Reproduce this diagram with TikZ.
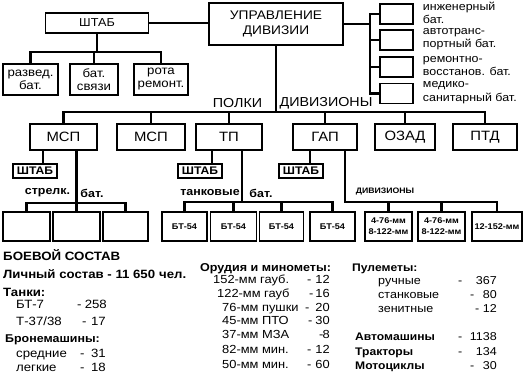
\documentclass[tikz,border=0pt]{standalone}
\usepackage{fontspec}
\setmainfont{Liberation Sans}[FakeStretch=1.1]
\newcommand\fsz[2]{\fontsize{#1}{#2}\selectfont}
\begin{document}
\begin{tikzpicture}[x=1pt,y=-1pt,
  box/.style={draw, line width=1.5pt, inner sep=0pt, align=center},
  sbox/.style={draw, line width=2pt, inner sep=0.5pt, minimum width=44pt, minimum height=14pt, font=\fsz{11}{12}\bfseries},
  lbox/.style={draw, line width=1.8pt, inner sep=0pt, align=center, minimum height=29pt, font=\fsz{8.3}{11}\bfseries},
  conn/.style={line width=2.8pt, line join=miter},
  lab/.style={inner sep=0pt, anchor=base west},
  num/.style={inner sep=0pt, anchor=base east},
  rl/.style={inner sep=0pt, anchor=west, align=left, font=\fsz{11.3}{13.5}},
  Lb/.style={font=\fsz{12}{13}\bfseries},
  Lr/.style={font=\fsz{12}{13}},
  Mb/.style={font=\fsz{11.4}{13}\bfseries},
  Mr/.style={font=\fsz{11.7}{13}},
  Rb/.style={font=\fsz{11}{13}\bfseries},
  Rr/.style={font=\fsz{11.4}{13}},
  reg/.style={box, minimum height=26pt, font=\fsz{13.5}{14}},
  mlab/.style={inner sep=0pt, font=\fsz{11.3}{12}\bfseries}]
\useasboundingbox (0,0) rectangle (525,375);

% top level
\node[box, minimum width=103pt, minimum height=20pt, font=\fsz{11.5}{13}] (hq) at (97,23) {ШТАБ};
\node[box, minimum width=134pt, minimum height=42pt, font=\fsz{12.5}{15}] (upr) at (276,24) {УПРАВЛЕНИЕ\\ДИВИЗИИ};

\node[box, minimum width=55pt, minimum height=31pt, font=\fsz{12}{13}] (razv) at (30.5,79.5) {развед.\\бат.};
\node[box, minimum width=48pt, minimum height=31pt, font=\fsz{12}{13}] (svyaz) at (94,79.5) {бат.\\связи};
\node[box, minimum width=54pt, minimum height=31pt, font=\fsz{12}{13}] (rota) at (161,79.5) {рота\\ремонт.};

\coordinate (busA) at (0,52);
\draw[conn] (hq.east) -- (hq.east -| upr.west);
\draw[conn] (hq.south) -- (hq.south |- busA);
\draw[conn] (razv.north) -- (razv.north |- busA) -- (rota.north |- busA) -- (rota.north);
\draw[conn] (svyaz.north) -- (svyaz.north |- busA);

% right battalions
\node[box, minimum width=33pt, minimum height=20pt] (r1) at (396.5,14) {};
\node[box, minimum width=33pt, minimum height=20pt] (r2) at (396.5,40) {};
\node[box, minimum width=33pt, minimum height=20pt] (r3) at (396.5,67) {};
\node[box, minimum width=33pt, minimum height=20pt] (r4) at (396.5,93.5) {};
\node[rl] (l1) at ([xshift=9pt,yshift=1pt]r1.east) {инженерный\\бат.};
\node[rl] (l2) at ([xshift=9pt,yshift=1pt]r2.east) {автотранс-\\портный бат.};
\node[rl] (l3) at ([xshift=9pt,yshift=1pt]r3.east) {ремонтно-\\восстанов. бат.};
\node[rl] (l4) at ([xshift=9pt,yshift=1pt]r4.east) {медико-\\санитарный бат.};
\coordinate (sp) at (370,0);
\draw[conn] (upr.east) -- (upr.east -| sp);
\draw[conn] (r1.west) -- (r1.west -| sp) -- (r4.west -| sp) -- (r4.west);
\draw[conn] (r2.west) -- (r2.west -| sp);
\draw[conn] (r3.west) -- (r3.west -| sp);

% regiments
\node[reg, minimum width=67pt] (msp1) at (63.5,137) {МСП};
\node[reg, minimum width=68pt] (msp2) at (151,137) {МСП};
\node[reg, minimum width=66pt] (tp) at (229,137) {ТП};
\node[reg, minimum width=64pt] (gap) at (325,137) {ГАП};
\node[reg, minimum width=60pt] (ozad) at (405,137) {ОЗАД};
\node[reg, minimum width=64pt] (ptd) at (485,137) {ПТД};
\coordinate (busM) at (0,112);
\draw[conn] (upr.south) -- (upr.south |- busM);
\draw[conn] (msp1.north) -- (msp1.north |- busM) -- (ptd.north |- busM) -- (ptd.north);
\draw[conn] (msp2.north) -- (msp2.north |- busM);
\draw[conn] (tp.north) -- (tp.north |- busM);
\draw[conn] (gap.north) -- (gap.north |- busM);
\draw[conn] (ozad.north) -- (ozad.north |- busM);
\node[inner sep=0pt, font=\fsz{13}{14}] (polki) at (237.5,103) {ПОЛКИ};
\node[inner sep=0pt, font=\fsz{13}{14}] (divz) at (326,103) {ДИВИЗИОНЫ};

% staffs
\node[sbox] (s1) at (35,171) {ШТАБ};
\node[sbox] (s2) at (200,171) {ШТАБ};
\node[sbox] (s3) at (301,171) {ШТАБ};
\draw[conn] ([xshift=8pt]s1.north) -- ([xshift=8pt]s1.north |- msp1.south);
\draw[conn] ([xshift=12pt]s2.north) -- ([xshift=12pt]s2.north |- tp.south);
\draw[conn] ([xshift=9pt]s3.north) -- ([xshift=9pt]s3.north |- gap.south);

% MSP battalions
\node[lbox, minimum width=47pt] (b1) at (26.5,226.5) {};
\node[lbox, minimum width=47pt] (b2) at (76.5,226.5) {};
\node[lbox, minimum width=45pt] (b3) at (125.5,226.5) {};
\coordinate (busS) at (0,203);
\draw[conn] (b2.north) -- (b2.north |- msp1.south);
\draw[conn] (b1.north) -- (b1.north |- busS) -- (b3.north |- busS) -- (b3.north);
\node[mlab] (strl) at (47.5,193) {стрелк.};
\node[mlab] (sbat) at (92,193) {бат.};

% TP battalions
\node[lbox, minimum width=45pt] (t1) at (184.5,226.5) {БТ-54};
\node[lbox, minimum width=46pt] (t2) at (233.5,226.5) {БТ-54};
\node[lbox, minimum width=44pt] (t3) at (281.5,226.5) {БТ-54};
\node[lbox, minimum width=45pt] (t4) at (332.5,226.5) {БТ-54};
\coordinate (busT) at (0,202);
\draw[conn] ([xshift=13pt]tp.south) -- ([xshift=13pt]tp.south |- busT);
\draw[conn] (t1.north) -- (t1.north |- busT) -- (t4.north |- busT) -- (t4.north);
\draw[conn] (t2.north) -- (t2.north |- busT);
\draw[conn] (t3.north) -- (t3.north |- busT);
\node[mlab] (tank) at (210,193) {танковые};
\node[mlab] (tbat) at (261,193) {бат.};

% GAP divisions
\node[lbox, minimum width=47pt] (g1) at (388.5,226.5) {4-76-мм\\8-122-мм};
\node[lbox, minimum width=47pt] (g2) at (441.5,226.5) {4-76-мм\\8-122-мм};
\node[lbox, minimum width=50pt] (g3) at (497,226.5) {12-152-мм};
\coordinate (busG) at (0,202);
\draw[conn] ([xshift=20pt]gap.south) -- ([xshift=20pt]gap.south |- busG) -- (g3.north |- busG) -- (g3.north);
\draw[conn] (g1.north) -- (g1.north |- busG);
\draw[conn] (g2.north) -- (g2.north |- busG);
\node[inner sep=0pt, font=\fsz{7.9}{10}\bfseries] (gdiv) at (385,192) {ДИВИЗИОНЫ};

% combat composition - left
\node[lab, font=\fsz{12.1}{13}\bfseries] (c0) at (3,260) {БОЕВОЙ СОСТАВ};
\node[lab, Lb] (c1) at (3,278) {Личный состав - 11 650\,\,чел.};
\node[lab, Lb] (c2) at (3,296) {Танки:};
\node[lab, Lr] (c3) at (16,308.5) {БТ-7};
\node[lab, Lr] (c3d) at (77,308.5) {-};
\node[num, Lr] (c3n) at (107,308.5) {258};
\node[lab, Lr] (c4) at (16,325.5) {Т-37/38};
\node[lab, Lr] (c4d) at (82,325.5) {-};
\node[num, Lr] (c4n) at (106,325.5) {17};
\node[lab, font=\fsz{11.3}{13}\bfseries] (c5) at (5,342.5) {Бронемашины:};
\node[lab, Lr] (c6) at (16,357) {средние};
\node[lab, Lr] (c6d) at (80,357) {-};
\node[num, Lr] (c6n) at (106,357) {31};
\node[lab, Lr] (c7) at (16,371) {легкие};
\node[lab, Lr] (c7d) at (80,371) {-};
\node[num, Lr] (c7n) at (106,371) {18};

% middle
\node[lab, Mb] (m0) at (200,271.5) {Орудия и минометы:};
\node[lab, Mr] (m1) at (213,283) {152-мм гауб.};
\node[lab, Mr] (m1d) at (307,283) {-};
\node[num, Mr] (m1n) at (330,283) {12};
\node[lab, Mr] (m2) at (217,297) {122-мм гауб};
\node[lab, Mr] (m2d) at (309,297) {-};
\node[num, Mr] (m2n) at (330,297) {16};
\node[lab, Mr] (m3) at (222,311) {76-мм пушки};
\node[lab, Mr] (m3d) at (305,311) {-};
\node[num, Mr] (m3n) at (330,311) {20};
\node[lab, Mr] (m4) at (222,324.5) {45-мм ПТО};
\node[lab, Mr] (m4d) at (308,324.5) {-};
\node[num, Mr] (m4n) at (330,324.5) {30};
\node[lab, Mr] (m5) at (222,338.5) {37-мм МЗА};
\node[lab, Mr] (m5d) at (319,338.5) {-};
\node[num, Mr] (m5n) at (330,338.5) {8};
\node[lab, Mr] (m6) at (222,353) {82-мм мин.};
\node[lab, Mr] (m6d) at (307,353) {-};
\node[num, Mr] (m6n) at (330,353) {12};
\node[lab, Mr] (m7) at (222,368) {50-мм мин.};
\node[lab, Mr] (m7d) at (307,368) {-};
\node[num, Mr] (m7n) at (330,368) {60};

% right
\node[lab, Rb] (p0) at (352,271) {Пулеметы:};
\node[lab, Rr] (p1) at (378,284) {ручные};
\node[lab, Rr] (p1d) at (458,284) {-};
\node[num, Rr] (p1n) at (497,284) {367};
\node[lab, Rr] (p2) at (378,298) {станковые};
\node[lab, Rr] (p2d) at (470,298) {-};
\node[num, Rr] (p2n) at (497,298) {80};
\node[lab, Rr] (p3) at (378,312) {зенитные};
\node[lab, Rr] (p3d) at (475,312) {-};
\node[num, Rr] (p3n) at (497,312) {12};
\node[lab, Rb] (a1) at (355,340) {Автомашины};
\node[lab, Rr] (a1d) at (458,340) {-};
\node[num, Rr] (a1n) at (497,340) {1138};
\node[lab, Rb] (a2) at (355,355) {Тракторы};
\node[lab, Rr] (a2d) at (458,355) {-};
\node[num, Rr] (a2n) at (497,355) {134};
\node[lab, Rb] (a3) at (355,369) {Мотоциклы};
\node[lab, Rr] (a3d) at (470,369) {-};
\node[num, Rr] (a3n) at (497,369) {30};
\end{tikzpicture}
\end{document}
